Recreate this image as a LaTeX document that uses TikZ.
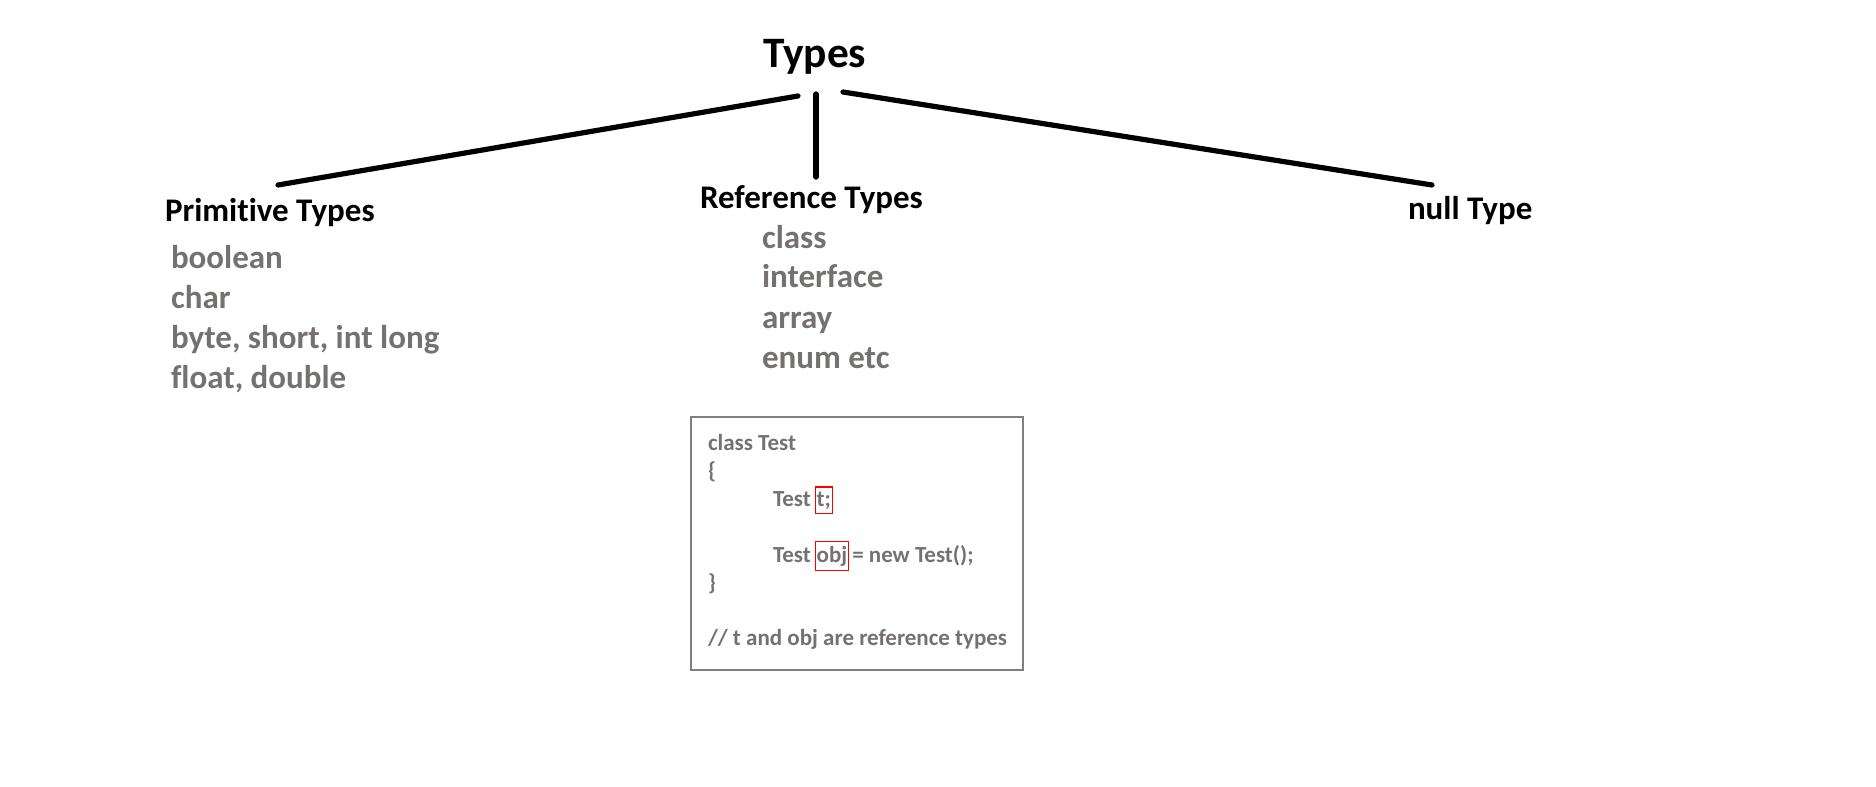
\documentclass[tikz,border=0pt]{standalone}
\usepackage{fontspec}
\setmainfont{Carlito}[Ligatures=NoCommon]
\definecolor{itemgray}{HTML}{767171}
\definecolor{boxgray}{HTML}{808080}
\begin{document}
\begin{tikzpicture}[x=0.5pt,y=-0.5pt,
  every node/.style={inner sep=0pt,outer sep=0pt,anchor=base west,font=\bfseries},
  titletext/.style={font=\fontsize{21.7}{24}\selectfont\bfseries},
  headtext/.style={font=\fontsize{16.5}{19}\selectfont\bfseries},
  itemtext/.style={font=\fontsize{16.5}{19}\selectfont\bfseries,text=itemgray},
  codetext/.style={font=\fontsize{11.5}{14}\selectfont\bfseries,text=itemgray},
  redmark/.style={draw=red,line width=0.6pt,inner xsep=0.7pt,inner ysep=2.2pt},
  branch/.style={line width=2.6pt,line cap=round}]
\useasboundingbox (0,0) rectangle (1876,787);
% title
\node[titletext] (types) at (763,68) {Types};
% headings
\node[headtext] (prim) at (165,221) {Primitive Types};
\node[headtext] (ref) at (700,208) {Reference Types};
\node[headtext] (null) at (1408,219) {null Type};
% primitive items
\node[itemtext] (p1) at (171,268) {boolean};
\node[itemtext] (p2) at (171,308) {char};
\node[itemtext] (p3) at (171,348) {byte, short, int long};
\node[itemtext] (p4) at (171,388) {float, double};
% reference items
\node[itemtext] (r1) at (762,248) {class};
\node[itemtext] (r2) at (762,287) {interface};
\node[itemtext] (r3) at (762,328) {array};
\node[itemtext] (r4) at (762,368) {enum etc};
% connectors
\coordinate (tl) at (798,96);
\coordinate (tm) at (816,94);
\coordinate (tr) at (843,92);
\coordinate (pl) at (278,185);
\coordinate (rm) at (816,177);
\coordinate (nr) at (1432,185);
\draw[branch] (tl) -- (pl);
\draw[branch] (tm) -- (rm);
\draw[branch] (tr) -- (nr);
% code box
\node[draw=boxgray,line width=0.6pt,anchor=north west,minimum width=166pt,minimum height=126.5pt] (box) at (691,417) {};
\node[codetext] (c1) at (708,450) {class Test};
\node[codetext] (c2) at (708,478) {\{};
\node[codetext] (c3a) at (773,506) {Test};
\node[codetext,redmark,anchor=base west] (c3b) at ([xshift=2.2pt]c3a.base east) {t;};
\node[codetext] (c4a) at (773,562) {Test};
\node[codetext,redmark,anchor=base west] (c4b) at ([xshift=2.2pt]c4a.base east) {obj};
\node[codetext,anchor=base west] (c4c) at ([xshift=1.8pt]c4b.base east) {= new Test();};
\node[codetext] (c5) at (708,590) {\}};
\node[codetext] (c6) at (708,645) {// t and obj are reference types};
\end{tikzpicture}
\end{document}
